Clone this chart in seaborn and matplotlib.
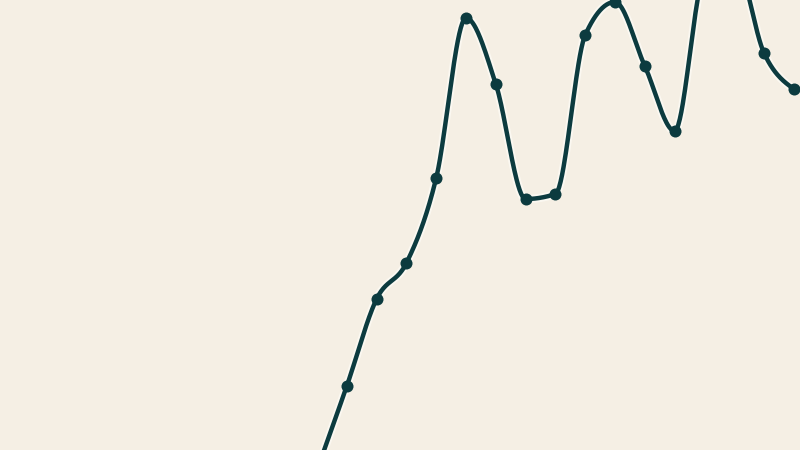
import numpy as np
import pandas as pd
import matplotlib.pyplot as plt
import matplotlib.patheffects as pe
import seaborn as sns

BG = '#f5efe4'
LINE = '#0c3b3f'

# series (index = step, value = height)
steps = list(range(17))
values = [-20, 64, 151, 187, 272, 432, 366, 251, 256, 415, 448, 384, 319, 475, 490, 397, 361]


def monotone_curve(x, y, n=40):
    # d3 curveMonotoneX style (Steffen) tangents
    x = np.asarray(x, float)
    y = np.asarray(y, float)
    h = np.diff(x)
    s = np.diff(y) / h
    t = np.zeros_like(y)
    for k in range(1, len(y) - 1):
        p = (s[k - 1] * h[k] + s[k] * h[k - 1]) / (h[k - 1] + h[k])
        t[k] = (np.sign(s[k - 1]) + np.sign(s[k])) * min(abs(s[k - 1]), abs(s[k]), 0.5 * abs(p))
    t[0] = (3 * s[0] - t[1]) / 2
    t[-1] = (3 * s[-1] - t[-2]) / 2
    xs, ys = [], []
    for k in range(len(h)):
        u = np.linspace(0, 1, n, endpoint=False)
        h00 = 2 * u**3 - 3 * u**2 + 1
        h10 = u**3 - 2 * u**2 + u
        h01 = -2 * u**3 + 3 * u**2
        h11 = u**3 - u**2
        xs.append(x[k] + u * h[k])
        ys.append(h00 * y[k] + h10 * h[k] * t[k] + h01 * y[k + 1] + h11 * h[k] * t[k + 1])
    xs.append([x[-1]])
    ys.append([y[-1]])
    return np.concatenate(xs), np.concatenate(ys)


df = pd.DataFrame({'step': steps, 'value': values})
cx, cy = monotone_curve(df['step'], df['value'])
curve = pd.DataFrame({'step': cx, 'value': cy})

fig = plt.figure(figsize=(8, 4.5), dpi=100, facecolor=BG)
ax = fig.add_axes([0, 0, 1, 1])
ax.set_facecolor(BG)

halo = [pe.withStroke(linewidth=6, foreground='#fbf8f1')]
sns.lineplot(data=curve, x='step', y='value', ax=ax, color=LINE, linewidth=3.2,
             sort=False, estimator=None, path_effects=halo)
sns.scatterplot(data=df, x='step', y='value', ax=ax, color=LINE, s=75,
                edgecolor=LINE, linewidth=0, zorder=3)

px = 29.8
ax.set_xlim(-317 / px, (800 - 317) / px)
ax.set_ylim(0, 450)
ax.axis('off')

fig.savefig('out.png', dpi=100, facecolor=BG)
